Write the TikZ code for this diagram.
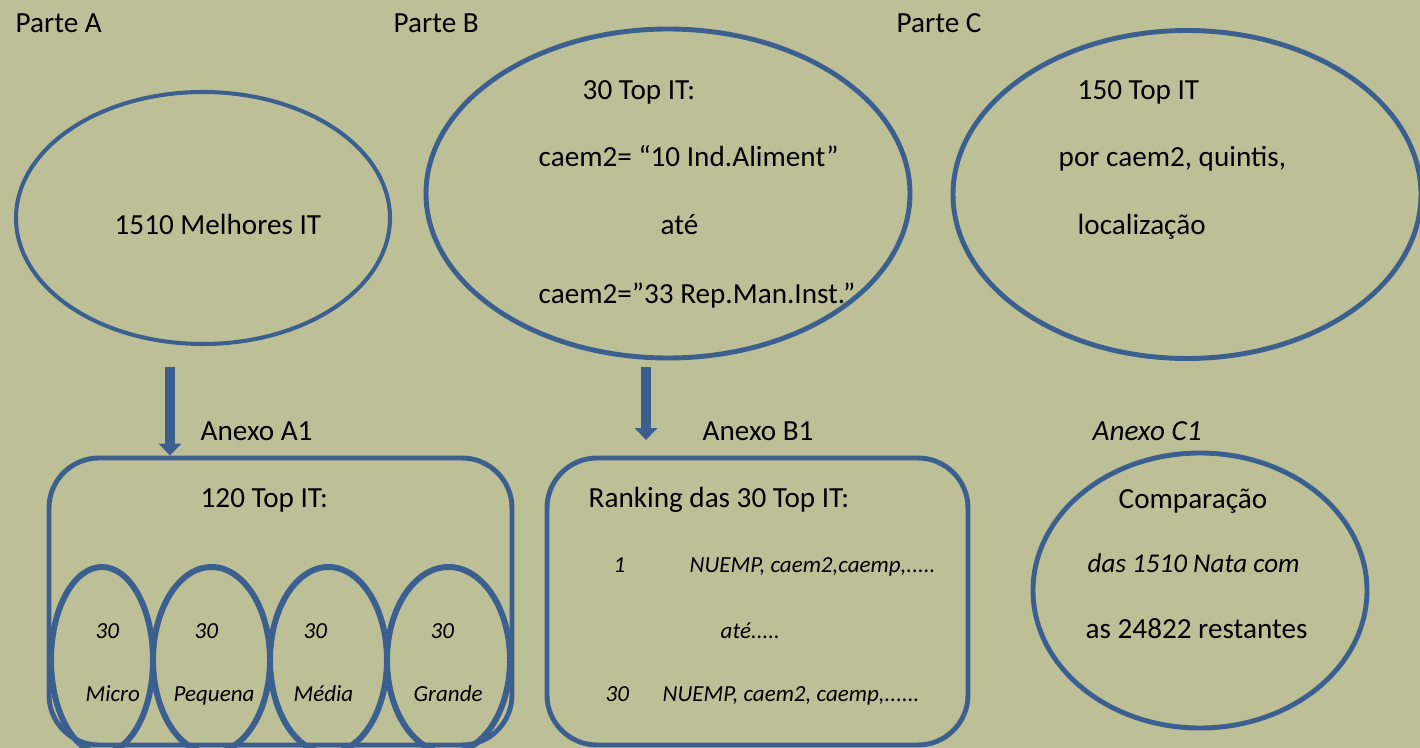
\documentclass[tikz,border=0pt]{standalone}
\usepackage{fontspec}
\setmainfont{Carlito}
\usetikzlibrary{arrows.meta,shapes.geometric}
\definecolor{olivebg}{HTML}{BDBF97}
\definecolor{shapeblue}{HTML}{3B5F8F}
\tikzset{
  txt/.style={anchor=base west, inner sep=0pt, font=\fontsize{8.3}{10}\selectfont},
  smalltxt/.style={anchor=base west, inner sep=0pt, font=\fontsize{6.55}{8}\selectfont\itshape},
  blob/.style={ellipse, draw=shapeblue, line width=1.4pt, inner sep=0pt},
  panel/.style={rectangle, rounded corners=0.5cm, draw=shapeblue, line width=1.4pt, inner sep=0pt},
  downarrow/.style={draw=shapeblue, line width=2.85pt, -{Triangle[width=6.3pt,length=3.4pt]}, shapeblue}
}

\begin{document}
\begin{tikzpicture}
		%%%%% START %%%%%
		\useasboundingbox (0,0) rectangle (14.2,-7.48);
		\fill[olivebg] (0,0) rectangle (14.2,-7.48);
		\clip (0,0) rectangle (14.2,-7.48);
		
		\node[txt] (parteA) at (0.15,-0.33) {Parte A};
		\node[txt] (parteB) at (3.93,-0.33) {Parte B};
		\node[txt] (parteC) at (8.96,-0.33) {Parte C};
		
		% parte A
		\node[blob, line width=1.15pt, minimum width=3.74cm, minimum height=2.52cm] (ellA) at (2.03,-2.18) {};
		\node[txt] (melhores) at (1.14,-2.35) {1510 Melhores IT};
		
		% parte B
		\node[blob, minimum width=4.84cm, minimum height=3.29cm] (ellB) at (6.68,-1.935) {};
		\node[txt] (topB) at (5.82,-1.00) {30 Top IT:};
		\node[txt] (caemA) at (5.38,-1.67) {caem2= “10 Ind.Aliment”};
		\node[txt] (ateB) at (6.60,-2.35) {até};
		\node[txt] (caemB) at (5.38,-3.03) {caem2=”33 Rep.Man.Inst.”};
		
		% parte C
		\node[blob, minimum width=4.68cm, minimum height=3.28cm] (ellC) at (11.87,-1.945) {};
		\node[txt] (topC) at (10.77,-1.00) {150 Top IT};
		\node[txt] (porC) at (10.58,-1.67) {por caem2, quintis,};
		\node[txt] (locC) at (10.77,-2.35) {localização};
		
		% setas
		\coordinate (arrA) at (1.70,-3.67);
		\coordinate (arrB) at (6.46,-3.67);
		\coordinate (arrBtip) at (6.46,-4.40);
		
		% anexo A1
		\node[txt] (anexoA) at (2.00,-4.40) {Anexo A1};
		\node[panel, minimum width=4.63cm, minimum height=2.87cm] (boxA) at (2.805,-6.015) {};
		\node[txt] (topA) at (2.00,-5.07) {120 Top IT:};
		\draw[downarrow] (arrA) -- (arrA |- boxA.north);
		
		\node[blob, line width=1.7pt, minimum width=1.02cm, minimum height=1.86cm] (micro) at (1.02,-6.60) {};
		\node[blob, line width=1.7pt, minimum width=1.17cm, minimum height=1.86cm] (pequena) at (2.115,-6.60) {};
		\node[blob, line width=1.7pt, minimum width=1.17cm, minimum height=1.86cm] (media) at (3.285,-6.60) {};
		\node[blob, line width=1.7pt, minimum width=1.23cm, minimum height=1.86cm] (grande) at (4.485,-6.60) {};
		
		\node[smalltxt] (n1) at (0.95,-6.38) {30};
		\node[smalltxt] (n2) at (1.94,-6.38) {30};
		\node[smalltxt] (n3) at (3.03,-6.38) {30};
		\node[smalltxt] (n4) at (4.30,-6.38) {30};
		\node[smalltxt] (lmicro) at (0.85,-7.01) {Micro};
		\node[smalltxt] (lpequena) at (1.73,-7.01) {Pequena};
		\node[smalltxt] (lmedia) at (2.93,-7.01) {Média};
		\node[smalltxt] (lgrande) at (4.13,-7.01) {Grande};
		
		% anexo B1
		\draw[downarrow] (arrB) -- (arrBtip);
		\node[txt] (anexoB) at (7.02,-4.40) {Anexo B1};
		\node[panel, minimum width=4.21cm, minimum height=2.87cm] (boxB) at (7.575,-6.015) {};
		\node[txt] (ranking) at (5.88,-5.07) {Ranking das 30 Top IT:};
		\node[smalltxt] (r1) at (6.13,-5.72) {1};
		\node[smalltxt] (r1txt) at (6.89,-5.72) {NUEMP, caem2,caemp,.....};
		\node[smalltxt] (rate) at (7.20,-6.38) {até.....};
		\node[smalltxt] (r30) at (6.05,-7.01) {30};
		\node[smalltxt] (r30txt) at (6.62,-7.01) {NUEMP, caem2, caemp,......};
		
		% anexo C1
		\node[txt, font=\fontsize{8.3}{10}\selectfont\itshape] (anexoC) at (10.92,-4.40) {Anexo C1};
		\node[blob, minimum width=3.34cm, minimum height=2.75cm] (ellC1) at (12.00,-5.905) {};
		\node[txt] (compar) at (11.18,-5.08) {Comparação};
		\node[txt, font=\fontsize{7.7}{9}\selectfont\itshape] (natas) at (10.87,-5.72) {das 1510 Nata com};
		\node[txt] (restantes) at (10.85,-6.38) {as 24822 restantes};
		
		%%%%% END %%%%%
	\end{tikzpicture}
\end{document}
